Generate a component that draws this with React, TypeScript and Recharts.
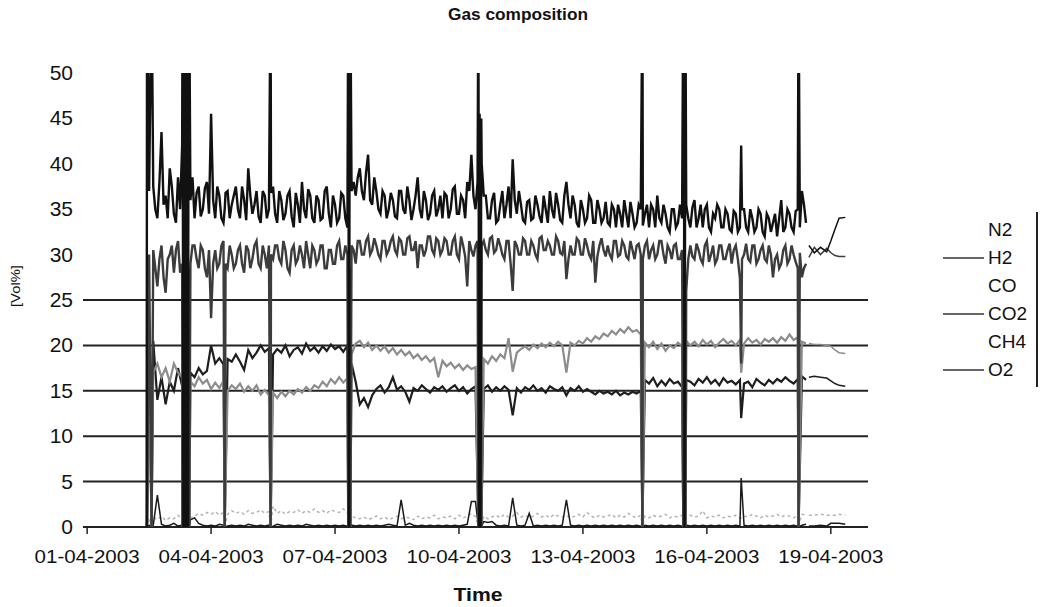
import { LineChart, Line, XAxis, YAxis, ReferenceLine } from "recharts"

const FONT = "'Liberation Sans', Arial, sans-serif"

// logger samples, days since 01-04-2003, every 0.1 day from 1.6 to 17.4
const SAMPLE_START = 1.6
const SAMPLE_STEP = 0.1

const n2 = [
  37.5, 34, 43.5, 36.5, 39.5, 34.5, 38.5, 42, 35, 36,
  34, 37.5, 35, 38, 45.5, 34, 36.5, 33.5, 37, 35.5,
  37.5, 34, 36, 39.5, 34.5, 37, 33.5, 36.5, 35, 37.5,
  33.5, 36, 34.5, 37, 33, 35.5, 38, 34, 36.5, 33.5,
  36, 34, 37.5, 33, 35.5, 34, 36.5, 33, 37, 36.5,
  39.5, 36, 41, 35.5, 37, 34.5, 36.5, 35, 36, 34,
  37, 34.5, 36, 35, 38.5, 34, 36, 34.5, 37, 35,
  34, 36.5, 35, 37.5, 34.5, 36, 38, 41, 35, 45.5,
  36.5, 34, 36, 33.5, 35.5, 34, 37.5, 40.5, 34.5, 35.5,
  33.5, 36, 34, 35.5, 33.5, 35, 37, 34, 35.5, 33.5,
  38, 34, 35.5, 33, 35, 34, 36, 33.5, 35, 34,
  33.5, 35.5, 33, 34.5, 36, 33, 34.5, 33.5, 35, 34.5,
  33, 35, 36.5, 33.5, 34.5, 32.5, 35, 33.5, 34, 35.5,
  33, 36, 34, 33, 35.5, 32.5, 34, 35, 33, 34.5,
  32.5, 34.5, 33, 35, 32.5, 34, 33, 34.5, 32, 34,
  33.5, 32, 36, 33, 34.5, 32.5, 35, 37, 33.5,
]

const h2 = [
  30.5, 26.5, 31, 25.8, 30, 28, 31.5, 29, 30.5, 29,
  31, 28.5, 30.5, 27.5, 23, 30.5, 29, 31.5, 28.5, 30,
  29, 31, 28, 30.5, 29.5, 31.5, 28.5, 30, 31, 29.5,
  31, 29, 30.5, 28, 31, 29.5, 30, 31.5, 28.5, 30.5,
  29.5, 31, 28.5, 30.5, 29, 31.5, 29.5, 30, 31, 29,
  31.5, 30, 32, 30.5, 31, 29.5, 31.5, 30.5, 32, 30,
  31.5, 30, 32, 30.5, 28.5, 31, 30.5, 32, 30, 31.5,
  30.5, 31.5, 30, 32, 29.5, 31, 26.5, 30.5, 31, 0,
  31.5, 30, 32, 30.5, 31, 29.5, 31.5, 26, 31, 30,
  31.5, 30, 31, 29.5, 32, 30.5, 31, 30, 31.5, 30,
  27.3, 31, 30, 31.5, 30, 31, 29.5, 26.9, 31, 30.5,
  31, 29.5, 31.5, 30, 31, 29.5, 30.5, 31, 30, 31,
  29.5, 31, 30, 31.5, 29, 30.5, 31, 29.5, 30.5, 26,
  31, 29.5, 30.5, 29, 31.5, 30, 29, 31, 29.5, 30.5,
  29, 31, 27.4, 30, 29.5, 31, 29, 30.5, 29.5, 31,
  27.5, 30, 29, 31, 29.5, 30, 28.5, 27.5, 29,
]

// N2 and H2 are logged twice as often: readings half-way between the samples above (1.65 ... 17.35)
const n2Mid = [
  35, 38, 35.5, 34, 37.5, 33.5, 35, 38.5, 37, 38.5,
  36.8, 34.2, 37.3, 34.5, 36, 37.5, 34, 36.8, 34, 36.5,
  35, 37.5, 33.8, 36.5, 35.5, 34.2, 37, 34, 36.8, 34.5,
  37, 33.8, 36.5, 34.2, 36.8, 33.5, 35, 37.2, 34, 36.5,
  33.8, 37, 34.5, 36.5, 33.5, 36.8, 34, 36.5, 38, 38.5,
  37, 39, 36, 38.5, 35, 37, 34, 36.8, 34.2, 37,
  35, 37.5, 33.8, 36.5, 35, 37, 33.8, 36.5, 34.2, 36.5,
  36.8, 34, 37.2, 34.5, 36.5, 34, 37, 36.5, 38, 40,
  36.5, 34, 36.8, 33.8, 37, 35.5, 34, 36, 37, 33.8,
  35.8, 33.8, 36.5, 34.2, 36.5, 33.5, 35, 36.8, 33.8, 36.5,
  35.5, 36.5, 33.5, 36, 33.5, 36.5, 33.5, 36, 33.5, 35.8,
  33.2, 35, 35.5, 33, 34.5, 35.8, 33, 35.5, 33.2, 35.5,
  35.5, 33, 34, 35.5, 33, 35, 33, 35.5, 33, 34,
  35.2, 33, 35.5, 35, 33, 34.5, 35.5, 33, 35, 32.8,
  34.8, 32.5, 35, 33, 35, 32.5, 35, 32.5, 34.5, 32.5,
  34.5, 34, 32.5, 35, 33, 34.8, 33, 35.5,
]

const h2Mid = [
  28.5, 29.5, 27.5, 29.5, 31, 30.5, 28, 31, 28.5, 31,
  29.5, 31, 28.5, 30.5, 29, 28.5, 31, 29, 31, 28.5,
  30.5, 29, 31, 28.5, 31, 29, 31, 28.5, 30, 31,
  29.5, 31.5, 28.5, 30.5, 29, 31, 28.5, 30, 31, 29,
  31, 28.5, 30.5, 29, 31, 29.5, 31, 28.5, 30.5, 31.5,
  30, 31.5, 30, 31.8, 30, 31.5, 30, 31.5, 30.5, 31.8,
  30, 31.8, 30.5, 31.5, 31, 29.8, 32, 30.5, 31.8, 30,
  31.8, 30, 31.5, 30, 32, 29.8, 31.5, 29.8, 31.5, 31,
  30.5, 31.8, 30.2, 31.8, 30, 31.5, 29, 31.5, 30, 31.8,
  30, 31.5, 30, 31.8, 30.5, 31.5, 30, 32, 30.2, 31.5,
  29.5, 30, 31.8, 30, 31.8, 30, 31.5, 29.8, 31.8, 29.8,
  30, 31.5, 29.8, 31.5, 29.8, 31.5, 29.5, 31.2, 29.5, 31.5,
  30.5, 29.5, 31.5, 30, 31, 29.5, 31.2, 29.5, 31.5, 29.5,
  29.8, 31.2, 29.5, 31, 29.2, 31, 29.5, 31, 29.5, 31.2,
  30.5, 29.5, 29.5, 31.2, 29.2, 31, 29.5, 31, 29.2, 30,
  29.5, 28.5, 30.5, 29, 31, 29.2, 30.2, 28.5,
]

const co = [
  20.5, 14, 16.5, 13.5, 16, 15, 17.5, 15.5, 16, 17,
  16.5, 17.5, 16.8, 17.2, 20, 18, 18.6, 17.9, 18.5, 18.2,
  19, 18.2, 17.3, 19.5, 18.6, 19.2, 20, 19.3, 19.7, 19,
  19.6, 19.2, 20, 18.8, 19.5, 19.8, 19.1, 20.2, 19.4, 19.8,
  19.2, 19.9, 19.4, 20.1, 19.6, 19.9, 19.3, 20, 18, 16,
  13.5, 14.2, 13.2, 14.5, 15.2, 15.6, 14.8, 15.4, 16.5, 15.1,
  15.5, 14.9, 13.8, 15.3, 15.0, 15.6, 15.2, 14.8, 15.4, 15.1,
  15.5, 14.9, 15.3, 15.6, 15.0, 15.4, 14.7, 15.2, 15.5, 0,
  15.2, 15.6, 14.9, 15.4, 15.0, 15.5, 15.1, 12.3, 15.3, 14.8,
  15.4, 15.1, 15.6, 15.0, 15.3, 14.8, 15.5, 15.2, 15.0, 15.4,
  14.5, 15.3, 15.0, 15.5, 14.9, 15.2, 14.9, 14.6, 15.0, 14.7,
  14.9, 14.6, 15.0, 14.5, 14.8, 14.6, 14.9, 14.7, 15.0, 16.2,
  15.8, 16.4, 15.5, 16.1, 15.6, 16.3, 15.8, 16.0, 15.4, 16.2,
  16.0, 15.6, 16.3, 15.9, 16.5, 15.8, 16.2, 15.6, 16.4, 15.9,
  16.1, 15.7, 16.2, 15.8, 16.0, 15.4, 16.3, 15.9, 15.6, 16.2,
  15.8, 16.3, 16.0, 16.5, 16.1, 15.8, 16.3, 16.6, 16.2,
]

const co2 = [
  17, 18, 16.5, 17.5, 16, 18, 17, 16.5, 17.5, 16,
  15.5, 16.5, 15.8, 16.2, 15.2, 15.9, 15.3, 16.1, 15.0, 15.6,
  15.2, 15.8, 14.9, 15.5, 15.0, 15.6, 14.6, 15.1, 14.5, 14.8,
  14.2, 14.9, 14.4, 15.0, 14.6, 15.2, 14.8, 15.4, 15.0, 15.6,
  15.3, 16.0, 15.5, 16.3, 15.8, 16.5, 15.9, 16.4, 19.0, 20.2,
  20.5, 19.8, 20.3, 19.5, 20.0, 19.4, 19.9, 19.2, 19.7, 19.0,
  19.5, 18.9, 19.3, 18.6, 19.0, 18.4, 18.8, 18.2, 18.6, 16.5,
  18.3, 17.7, 18.1, 17.5, 17.9, 17.3, 17.8, 17.4, 17.6, 0,
  18.5, 18.0, 18.8, 18.3, 19.0, 18.6, 20.8, 17.1, 19.2, 19.6,
  19.9, 19.5, 20.1, 19.7, 20.2, 19.8, 20.3, 19.9, 20.4, 20.0,
  17.0, 20.3, 20.0, 20.5, 20.2, 20.8, 20.4, 21.0, 20.7, 21.3,
  21.0, 21.6, 21.2, 21.8, 21.4, 22.0, 21.5, 21.7, 21.2, 20.3,
  19.8, 20.4, 19.6, 20.2, 19.4, 20.0, 19.7, 20.3, 19.9, 20.5,
  20.0, 20.4, 19.9, 20.6, 20.1, 20.5, 19.8, 20.3, 20.7, 20.2,
  20.5, 20.0, 20.6, 20.2, 20.8, 20.3, 20.6, 20.1, 20.7, 20.4,
  20.8, 20.3, 20.9, 20.5, 21.2, 20.6, 20.9, 20.4, 20.2,
]

const ch4 = [
  1.1, 0.8, 1.2, 0.7, 1.0, 0.9, 1.3, 0.8, 1.1, 1.0,
  1.2, 1.5, 1.3, 1.6, 1.4, 1.7, 1.3, 1.6, 1.4, 1.8,
  1.5, 1.7, 1.4, 1.8, 1.5, 1.6, 1.9, 1.5, 1.7, 2.3,
  1.5, 1.8, 1.4, 1.7, 1.6, 1.9, 1.5, 1.8, 1.6, 2.0,
  1.6, 1.8, 1.5, 1.9, 1.7, 1.6, 2.0, 1.7, 1.2, 1.0,
  0.9, 1.1, 0.8, 1.0, 1.2, 0.9, 1.1, 0.8, 1.0, 1.2,
  0.9, 1.1, 1.0, 0.8, 1.2, 0.9, 1.1, 1.0, 1.3, 0.9,
  1.1, 1.0, 1.2, 0.9, 1.3, 1.0, 1.2, 1.5, 1.1, 0,
  1.2, 0.9, 1.1, 1.3, 1.0, 1.4, 1.1, 1.2, 1.6, 1.1,
  1.3, 1.0, 1.2, 1.5, 1.1, 1.3, 1.0, 1.4, 1.2, 1.1,
  1.3, 1.0, 1.2, 1.4, 1.1, 1.6, 1.2, 1.0, 1.3, 1.1,
  1.2, 1.4, 1.0, 1.3, 1.1, 1.5, 1.2, 1.0, 1.3, 1.2,
  1.0, 1.3, 1.1, 1.2, 1.4, 1.0, 1.2, 1.1, 1.3, 1.2,
  1.3, 1.1, 1.2, 1.8, 1.0, 1.2, 1.1, 1.3, 1.0, 1.2,
  1.1, 1.3, 1.0, 1.2, 1.1, 1.4, 1.2, 1.0, 1.3, 1.1,
  1.2, 1.4, 1.1, 1.3, 1.2, 1.0, 1.3, 1.4, 1.3,
]

const o2 = [
  0.2, 3.5, 0.3, 0.1, 0.2, 0.4, 0.1, 0.2, 0.3, 0.8,
  1.0, 0.4, 0.2, 0.1, 0.2, 0.1, 0.3, 0.2, 0.1, 0.2,
  0.1, 0.2, 0.1, 0.3, 0.2, 0.1, 0.2, 0.1, 0.2, 0.1,
  0.3, 0.2, 0.1, 0.2, 0.1, 0.2, 0.1, 0.3, 0.2, 0.1,
  0.2, 0.1, 0.2, 0.1, 0.2, 0.1, 0.2, 0.1, 0.2, 0.1,
  0.2, 0.1, 0.2, 0.1, 0.2, 0.1, 0.2, 0.3, 0.2, 0.1,
  3.0, 0.2, 0.4, 0.2, 0.1, 0.2, 0.1, 0.2, 0.1, 0.2,
  0.1, 0.2, 0.1, 0.2, 0.1, 0.2, 0.3, 2.8, 2.8, 0,
  0.6, 0.5, 0.6, 0.2, 0.1, 0.2, 0.1, 3.2, 0.2, 0.1,
  0.2, 1.5, 0.1, 0.2, 0.1, 0.2, 0.1, 0.2, 0.1, 0.2,
  3.0, 0.2, 0.1, 0.2, 0.1, 0.2, 0.1, 0.2, 0.1, 0.2,
  0.1, 0.2, 0.1, 0.2, 0.1, 0.2, 0.1, 0.2, 0.1, 0.2,
  0.1, 0.2, 0.1, 0.2, 0.1, 0.2, 0.1, 0.2, 0.1, 0.2,
  0.1, 0.2, 0.1, 0.2, 0.1, 0.2, 0.1, 0.2, 0.1, 0.2,
  0.1, 0.2, 0.1, 0.2, 0.1, 0.2, 0.1, 0.2, 0.1, 0.2,
  0.1, 0.2, 0.1, 0.2, 0.1, 0.2, 0.1, 0.2, 0.3,
]

// analyser purges / outages (readings jump off scale or drop to zero)
const eventDays = [1.44, 1.45, 1.5, 1.56, 2.31, 2.33, 2.37, 2.39, 2.42, 2.44, 2.47, 3.33, 4.44, 6.32, 6.34, 6.37, 9.47, 9.49, 9.52, 9.54, 13.44, 14.43, 14.46, 14.48, 15.83, 17.22]
const eventN2 = [0, 60, 37, 60, 60, 0, 60, 0, 60, 0, 60, 35, 60, 60, 0, 60, 60, 0, 0, 45, 60, 60, 0, 60, 42, 60]
const eventH2 = [0, 0, 30, 0, 0, 0, 0, 0, 0, 0, 0, 0, 0, 0, 0, 0, 0, 0, 0, 0, 0, 0, 0, 0, 18, 0]
const eventCO = [0, 0, 18, 0, 0, 0, 0, 0, 0, 0, 0, 0, 0, 0, 0, 0, 0, 0, 0, 0, 0, 0, 0, 0, 12, 0]
const eventCO2 = [0, 0, 17, 0, 0, 0, 0, 0, 0, 0, 0, 0, 0, 0, 0, 0, 0, 0, 0, 0, 0, 0, 0, 0, 17, 0]
const eventCH4 = [0, 0, 1, 0, 0, 0, 0, 0, 0, 0, 0, 0, 0, 0, 0, 0, 0, 0, 0, 0, 0, 0, 0, 0, 1, 0]
const eventO2 = [0, 0, 0.2, 0, 0, 0, 0, 0, 0, 0, 0, 0, 0, 0, 0, 0, 0, 0, 0, 0, 0, 0, 0, 0, 5.4, 0]

// last hours, slower logging
const tailDays = [17.47, 17.6, 17.75, 17.9, 18.0, 18.1, 18.2, 18.35]
const tailN2 = [31.0, 30.2, 30.8, 30.3, 31.5, 32.8, 34.0, 34.1]
const tailH2 = [29.7, 30.8, 30.0, 30.7, 30.2, 29.9, 29.8, 29.8]
const tailCO = [16.5, 16.6, 16.5, 16.4, 16.1, 15.8, 15.6, 15.5]
const tailCO2 = [20.2, 20.1, 20.1, 20.0, 19.9, 19.5, 19.2, 19.1]
const tailCH4 = [1.3, 1.3, 1.4, 1.3, 1.3, 1.3, 1.4, 1.3]
const tailO2 = [0.1, 0.1, 0.2, 0.1, 0.4, 0.4, 0.4, 0.3]

const tickDays = [0, 3, 6, 9, 12, 15, 18]
const tickLabels = ["01-04-2003", "04-04-2003", "07-04-2003", "10-04-2003", "13-04-2003", "16-04-2003", "19-04-2003"]
const yTicks = [0, 5, 10, 15, 20, 25, 30, 35, 40, 45, 50]
const gridValues = [0, 5, 10, 15, 20, 25]

const series = [
  { key: "CH4", color: "#b4b4b4", width: 1.5, dash: "3 3" },
  { key: "O2", color: "#1a1a1a", width: 1.5 },
  { key: "CO", color: "#1e1e1e", width: 2.2 },
  { key: "CO2", color: "#8c8c8c", width: 2.2 },
  { key: "H2", color: "#3c3c3c", width: 2.4 },
  { key: "N2", color: "#111111", width: 2.4 },
]

const legendNames = ["N2", "H2", "CO", "CO2", "CH4", "O2"]
const legendWithLine = ["H2", "CO2", "O2"]

const round2 = (v: number) => Math.round(v * 100) / 100

const row = (day: number, sfx: string, a: number[], b: number[], c: number[], d: number[], e: number[], f: number[], i: number) => ({
  day,
  ["N2" + sfx]: a[i], ["H2" + sfx]: b[i], ["CO" + sfx]: c[i],
  ["CO2" + sfx]: d[i], ["CH4" + sfx]: e[i], ["O2" + sfx]: f[i],
})

const data = [
  ...n2.map((_, i) => row(round2(SAMPLE_START + i * SAMPLE_STEP), "", n2, h2, co, co2, ch4, o2, i)),
  ...n2Mid.map((v, i) => ({ day: round2(SAMPLE_START + (i + 0.5) * SAMPLE_STEP), N2: v, H2: h2Mid[i] })),
  ...eventDays.map((d, i) => row(d, "", eventN2, eventH2, eventCO, eventCO2, eventCH4, eventO2, i)),
  ...tailDays.map((d, i) => row(d, "_tail", tailN2, tailH2, tailCO, tailCO2, tailCH4, tailO2, i)),
].sort((a, b) => a.day - b.day)

const XTick = ({ x, y, payload }: any) => (
  <text x={x} y={y} dy={29} textAnchor="middle" fontSize={19} fontFamily={FONT} fill="#111"
    textLength={105} lengthAdjust="spacingAndGlyphs">
    {tickLabels[tickDays.indexOf(payload.value)]}
  </text>
)

const YTick = ({ x, y, payload }: any) => (
  <text x={x} y={y} dy={7} textAnchor="end" fontSize={21} fontFamily={FONT} fill="#111">
    {payload.value}
  </text>
)

export default function App() {
  return (
    <div style={{ position: "absolute", left: 0, top: 0, width: 1042, height: 607 }}>
      <LineChart width={1042} height={607} data={data}
        margin={{ top: 73, right: 174, bottom: 20, left: 0 }}>
        <XAxis dataKey="day" type="number" domain={[-0.1, 18.9]} ticks={tickDays} allowDataOverflow
          axisLine={false} tickSize={7} tickMargin={0} height={60}
          tickLine={{ stroke: "#222", strokeWidth: 1.5 }} tick={<XTick />} />
        <YAxis type="number" domain={[0, 50]} ticks={yTicks} allowDataOverflow width={83}
          axisLine={false} tickLine={false} tickSize={0} tickMargin={10} tick={<YTick />} />
        {gridValues.map(v => (
          <ReferenceLine key={v} y={v} stroke="#222" strokeWidth={2} />
        ))}
        {series.map(s => (
          <Line key={s.key} dataKey={s.key} type="linear" stroke={s.color} strokeWidth={s.width}
            strokeDasharray={s.dash} dot={false} connectNulls isAnimationActive={false} />
        ))}
        {series.map(s => (
          <Line key={s.key + "_tail"} dataKey={s.key + "_tail"} type="linear" stroke={s.color} strokeWidth={1.5}
            strokeDasharray={s.dash} dot={false} isAnimationActive={false} />
        ))}
      </LineChart>
      <svg width={1042} height={607} style={{ position: "absolute", left: 0, top: 0, pointerEvents: "none" }}>
        <text x={518} y={20} textAnchor="middle" fontSize={16} fontWeight="bold" fontFamily={FONT} fill="#111"
          textLength={140} lengthAdjust="spacingAndGlyphs">Gas composition</text>
        <text x={478} y={601} textAnchor="middle" fontSize={18} fontWeight="bold" fontFamily={FONT} fill="#111"
          textLength={49} lengthAdjust="spacingAndGlyphs">Time</text>
        <text transform="translate(20 286) rotate(-90)" textAnchor="middle" fontSize={12} fontFamily={FONT} fill="#111"
          textLength={42} lengthAdjust="spacingAndGlyphs">[Vol%]</text>
        {legendNames.map((name, i) => (
          <g key={name}>
            {legendWithLine.includes(name) && (
              <line x1={943} x2={984} y1={230 + i * 28} y2={230 + i * 28} stroke="#333" strokeWidth={1.5} />
            )}
            <text x={988} y={236 + i * 28} fontSize={19} fontFamily={FONT} fill="#111">{name}</text>
          </g>
        ))}
        <line x1={1037} x2={1037} y1={212} y2={387} stroke="#222" strokeWidth={2} />
      </svg>
    </div>
  )
}
